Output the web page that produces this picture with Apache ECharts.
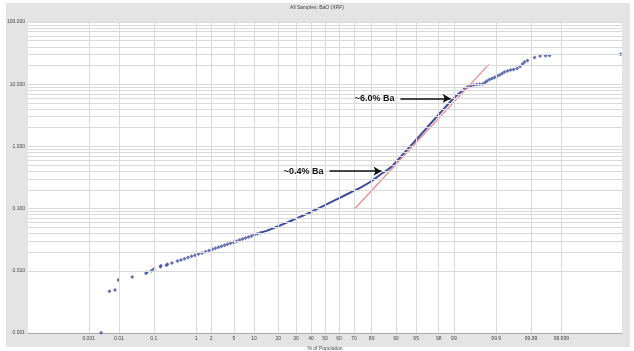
<!DOCTYPE html>
<html><head><meta charset="utf-8">
<script src="https://cdn.jsdelivr.net/npm/echarts@6/dist/echarts.min.js"></script>
<style>html,body{margin:0;padding:0;background:#fff}#c{width:634px;height:351px}</style>
</head><body><div id="c"></div>
<script>
const chartTitle = 'All Samples: BaO (XRF)';
const xAxisName = '% of Population';
const yAxisName = 'Value';
const xTickPercents = [0.001,0.01,0.1,1,2,5,10,20,30,40,50,60,70,80,90,95,98,99,99.9,99.99,99.999];
const xTickLabels = ['0.001','0.01','0.1','1','2','5','10','20','30','40','50','60','70','80','90','95','98','99','99.9','99.99','99.999'];
const yDecades = [0.001,0.01,0.1,1,10,100];
const yMinorSteps = [2,3,4,5,6,7,8,9];

// lower tail (separate dots)
const lowerPct = [0.00267,0.00501,0.00753,0.00957,0.0251,0.0619,0.0650,0.0874,0.100,
  0.149,0.152,0.211,0.223,0.287,0.388,0.468,0.561,0.670,0.798,0.946,1.121,1.321,1.550,1.813,2.113,
  2.402,2.730,3.088,3.484,3.920,4.401,4.927,5.513,6.141,6.824,7.564,8.364,9.225,10.151,11.143,12.220];
const lowerVal = [0.00101,0.00468,0.00491,0.00711,0.00794,0.00912,0.00946,0.01004,0.01069,
  0.01164,0.01208,0.01225,0.01273,0.01340,0.01439,0.01496,0.01567,0.01637,0.01706,0.01782,0.01862,0.01941,0.02028,0.02118,0.02218,
  0.02301,0.02388,0.02477,0.02570,0.02667,0.02767,0.02884,0.02992,0.03119,0.03236,0.03365,0.03491,0.03639,0.03776,0.03936,0.04102];
// dense middle part
const midPct = [12.22,16.26,21.10,26.67,32.92,39.67,46.76,53.95,61.02,67.74,73.92,79.43,84.18,88.15,91.35,93.86,95.76,97.16,98.15,98.83,99.12,99.347];
const midVal = [0.04102,0.04645,0.05408,0.06324,0.07413,0.08724,0.1050,0.1262,0.1508,0.1815,0.2183,0.2704,0.3532,0.4581,0.6761,1.014,1.524,2.333,3.508,5.272,6.578,7.925];
// upper tail
const upperPct = [99.410,99.494,99.568,99.633,99.688,99.736,99.777,99.806,99.827,99.851,99.871,99.889,99.9048,99.9184,99.9301,99.9402,
  99.9506,99.9593,99.9667,99.9736,99.9784,99.9818,99.9841,99.9871,99.99222,99.99480,99.99655,99.99746,99.9999952];
const upperVal = [8.531,9.016,9.354,9.705,9.886,9.954,10.07,10.65,11.26,11.90,12.35,12.81,13.55,14.06,14.86,15.70,
  16.29,16.90,17.22,17.87,19.27,21.13,22.75,24.05,26.87,28.40,28.62,28.93,30.35];
// fitted lognormal line
const fitPct = [70.28, 99.845];
const fitVal = [0.0986, 20.9];
// annotations
const noteText = ['~0.4% Ba','~6.0% Ba'];
const noteFromPct = [53.2, 91.35];
const noteToPct = [84.6, 98.83];
const noteVal = [0.40, 5.9];

function probit(p){
  const a=[-3.969683028665376e+01,2.209460984245205e+02,-2.759285104469687e+02,1.383577518672690e+02,-3.066479806614716e+01,2.506628277459239e+00];
  const b=[-5.447609879822406e+01,1.615858368580409e+02,-1.556989798598866e+02,6.680131188771972e+01,-1.328068155288572e+01];
  const c=[-7.784894002430293e-03,-3.223964580411365e-01,-2.400758277161838e+00,-2.549732539343734e+00,4.374664141464968e+00,2.938163982698783e+00];
  const d=[7.784695709041462e-03,3.224671290700398e-01,2.445134137142996e+00,3.754408661907416e+00];
  const pl=0.02425, ph=1-pl; let q,r;
  if(p<pl){q=Math.sqrt(-2*Math.log(p));return (((((c[0]*q+c[1])*q+c[2])*q+c[3])*q+c[4])*q+c[5])/((((d[0]*q+d[1])*q+d[2])*q+d[3])*q+1);}
  if(p>ph){q=Math.sqrt(-2*Math.log(1-p));return -(((((c[0]*q+c[1])*q+c[2])*q+c[3])*q+c[4])*q+c[5])/((((d[0]*q+d[1])*q+d[2])*q+d[3])*q+1);}
  q=p-0.5;r=q*q;return (((((a[0]*r+a[1])*r+a[2])*r+a[3])*r+a[4])*r+a[5])*q/(((((b[0]*r+b[1])*r+b[2])*r+b[3])*r+b[4])*r+1);
}
const px = pct => probit(pct/100);
const pairs = (P,V) => P.map((p,i)=>[px(p),V[i]]);
const xTickZ = xTickPercents.map(px);

const gridLineData = [];
xTickZ.forEach(z=>gridLineData.push({xAxis:z}));
yDecades.forEach((d,i)=>{ gridLineData.push({yAxis:d}); if(i<yDecades.length-1) yMinorSteps.forEach(m=>gridLineData.push({yAxis:d*m})); });

const font = 'Liberation Sans, Arial, sans-serif';
const blue = '#3d4c9e';
const chart = echarts.init(document.getElementById('c'), null, {renderer:'canvas'});
chart.setOption({
  animation:false,
  backgroundColor:'#fff',
  graphic:[{type:'rect', z:-10, shape:{x:6,y:3,width:624,height:344}, style:{fill:'#e4e4e4'}}],
  title:{text:chartTitle,left:'center',top:5,padding:0,textStyle:{fontSize:5,fontWeight:'normal',color:'#444',fontFamily:font}},
  grid:{left:28,right:12,top:22,bottom:18,outerBoundsMode:'none',containLabel:false,show:true,backgroundColor:'#fff',borderWidth:0},
  xAxis:{type:'value',min:-5.36,max:5.36,
    name:xAxisName,nameLocation:'middle',nameGap:8,nameTextStyle:{fontSize:5,color:'#444',fontFamily:font},
    axisLine:{show:true,lineStyle:{color:'#aaa',width:1}},axisTick:{show:false},splitLine:{show:false},
    axisLabel:{customValues:xTickZ,fontSize:5,color:'#444',margin:3,fontFamily:font,
      formatter:(v)=>{let bi=0,bd=1e9;xTickZ.forEach((z,i)=>{const dd=Math.abs(z-v);if(dd<bd){bd=dd;bi=i;}});return xTickLabels[bi];}}},
  yAxis:{type:'log',logBase:10,min:0.001,max:100,
    name:yAxisName,nameLocation:'middle',nameGap:19,nameRotate:90,nameTextStyle:{fontSize:5,color:'#444',fontFamily:font},
    axisLine:{show:true,lineStyle:{color:'#aaa',width:1}},axisTick:{show:false},splitLine:{show:false},
    axisLabel:{fontSize:5,color:'#444',margin:3,fontFamily:font,formatter:v=>Number(v).toFixed(3)}},
  series:[
    {type:'line',data:[],silent:true,markLine:{silent:true,symbol:['none','none'],label:{show:false},
      lineStyle:{color:'#dadada',width:1,type:'solid'},emphasis:{disabled:true},data:gridLineData},z:1},
    {type:'scatter',name:'lower',data:pairs(lowerPct,lowerVal),symbol:'diamond',symbolSize:4,itemStyle:{color:blue},z:3},
    {type:'line',name:'mid',data:pairs(midPct,midVal),smooth:0.3,showSymbol:false,lineStyle:{color:blue,width:2},z:3},
    {type:'scatter',name:'upper',data:pairs(upperPct,upperVal),symbol:'diamond',symbolSize:4,itemStyle:{color:blue},z:3},
    {type:'line',name:'fit',data:pairs(fitPct,fitVal),showSymbol:false,lineStyle:{color:'#e6707a',width:1.2,opacity:0.85},z:4},
    {type:'line',data:[],silent:true,z:5,markLine:{silent:true,symbol:['none','arrow'],symbolSize:[7,8],
      lineStyle:{color:'#111',width:1.6,type:'solid'},
      label:{show:true,position:'start',distance:6,fontSize:9,fontWeight:'bold',color:'#111',fontFamily:font,formatter:p=>p.name},
      data:noteText.map((t,i)=>[{name:t,coord:[px(noteFromPct[i]),noteVal[i]]},{coord:[px(noteToPct[i]),noteVal[i]]}])}}
  ]
});
</script></body></html>
